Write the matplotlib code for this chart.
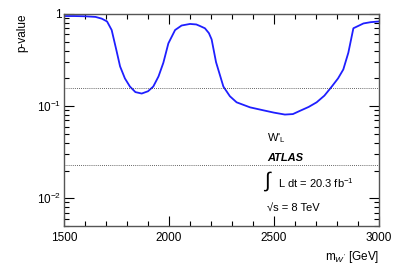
import matplotlib
matplotlib.use("Agg")
import matplotlib.pyplot as plt
from matplotlib.ticker import LogLocator, FixedLocator, MultipleLocator, NullFormatter, FuncFormatter

plt.rcParams['font.family'] = ['Liberation Sans', 'DejaVu Sans']
plt.rcParams['mathtext.fontset'] = 'custom'
plt.rcParams['mathtext.rm'] = 'Liberation Sans'
plt.rcParams['mathtext.it'] = 'Liberation Sans:italic'
plt.rcParams['mathtext.bf'] = 'Liberation Sans:bold'

# W' mass (GeV) and local p-value
mass = [1500, 1550, 1600, 1650, 1680, 1705, 1727, 1750, 1767, 1790, 1814, 1840, 1870, 1900,
        1925, 1950, 1973, 1997, 2029, 2060, 2100, 2130, 2148, 2171, 2190, 2203, 2224, 2259,
        2290, 2322, 2386, 2450, 2500, 2552, 2590, 2624, 2665, 2703, 2740, 2775, 2805, 2830,
        2854, 2878, 2926, 2960, 3000]
pval = [0.95, 0.95, 0.945, 0.93, 0.89, 0.83, 0.67, 0.40, 0.27, 0.20, 0.163, 0.142, 0.137,
        0.145, 0.163, 0.21, 0.295, 0.48, 0.67, 0.75, 0.78, 0.77, 0.74, 0.70, 0.62, 0.53,
        0.30, 0.163, 0.128, 0.11, 0.097, 0.09, 0.085, 0.081, 0.082, 0.089, 0.098, 0.11,
        0.13, 0.163, 0.20, 0.25, 0.38, 0.70, 0.79, 0.815, 0.83]

one_sigma = 0.1587
two_sigma = 0.02275

fig = plt.figure(figsize=(3.99, 2.70), dpi=100)
ax = fig.add_axes([64/399, 1-226/270, (379-64)/399, (226-14)/270])

ax.plot(mass, pval, color='#1f1fff', lw=1.3)
ax.axhline(one_sigma, color='#333333', lw=0.6, ls=(0, (1, 1.5)))
ax.axhline(two_sigma, color='#333333', lw=0.6, ls=(0, (1, 1.5)))

ax.set_yscale('log')
ax.set_xlim(1500, 3000)
ax.set_ylim(0.005, 1)

ax.xaxis.set_major_locator(MultipleLocator(500))
ax.xaxis.set_minor_locator(MultipleLocator(100))
ax.yaxis.set_major_locator(FixedLocator([0.01, 0.1, 1]))
ax.yaxis.set_minor_locator(LogLocator(base=10, subs=range(2, 10)))
ax.yaxis.set_minor_formatter(NullFormatter())
ylabels = {0.01: r'$10^{-2}$', 0.1: r'$10^{-1}$', 1: '1'}
ax.yaxis.set_major_formatter(FuncFormatter(lambda v, p: ylabels.get(round(v, 3), '')))
ax.xaxis.set_major_formatter(FuncFormatter(lambda v, p: '%d' % v))

ax.tick_params(which='both', direction='in', top=True, right=True, labelsize=8.5, colors='black')
ax.tick_params(which='major', length=7, width=0.8)
ax.tick_params(which='minor', length=3.5, width=0.8)
ax.tick_params(axis='x', pad=4)
ax.tick_params(axis='y', pad=2)
for s in ax.spines.values():
    s.set_linewidth(1.0)
    s.set_color('#555555')

fig.text(22/399, 1-14/270, 'p-value', rotation=90, ha='center', va='top', fontsize=8.5)
fig.text(379/399, 1-257/270, r"m$_{W'}$ [GeV]", ha='right', va='center', fontsize=8.5)

fs = 8
fig.text(267/399, 1-138/270, r"W$'_{\mathrm{L}}$", ha='left', va='center', fontsize=fs)
fig.text(267/399, 1-158/270, 'ATLAS', ha='left', va='center', fontsize=fs,
         fontweight='bold', fontstyle='italic')
fig.text(263/399, 1-181/270, r'$\int$', ha='left', va='center', fontsize=15, family='DejaVu Sans')
fig.text(278/399, 1-183/270, r'L dt = 20.3 fb$^{-1}$', ha='left', va='center', fontsize=fs)
fig.text(267/399, 1-208/270, '\u221as = 8 TeV', ha='left', va='center', fontsize=fs)

fig.savefig('out.png', dpi=100)
